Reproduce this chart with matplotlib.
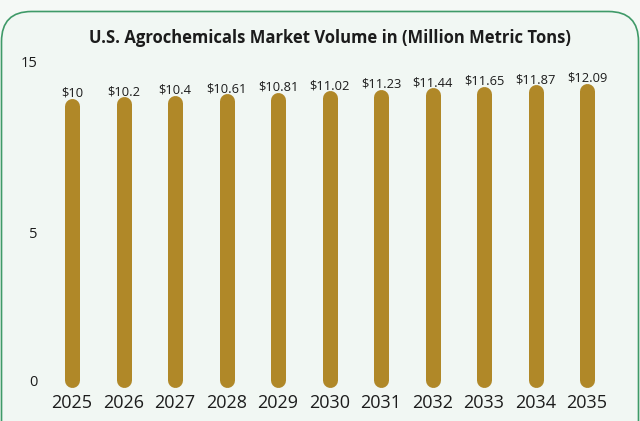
import numpy as np
import matplotlib
matplotlib.use('Agg')
import matplotlib.pyplot as plt
from matplotlib.patches import FancyBboxPatch
from matplotlib.transforms import IdentityTransform

years = ['2025', '2026', '2027', '2028', '2029', '2030', '2031', '2032', '2033', '2034', '2035']
volume = [10, 10.2, 10.4, 10.61, 10.81, 11.02, 11.23, 11.44, 11.65, 11.87, 12.09]
yticks = [0, 5, 15]

# piecewise y scale (value -> pixel height above the baseline)
scale_vals = [-0.4, 0, 5, 10, 12.09, 15, 17]
scale_px = [-11.8, 0, 147.5, 274.7, 289.7, 318.5, 338.5]

def fwd(v):
	return np.interp(v, scale_vals, scale_px)

def inv(p):
	return np.interp(p, scale_px, scale_vals)

plt.rcParams['font.family'] = ['Open Sans', 'DejaVu Sans']
bar_color = '#b08828'
text_color = '#1c1c1c'

fig = plt.figure(figsize=(6.4, 4.21), dpi=100, facecolor='#f5f9f6')

# rounded frame around the chart
frame = FancyBboxPatch((1.5, -30), 637, 421 - 10 + 30 - 1.5,
	boxstyle='round,pad=0,rounding_size=30',
	transform=IdentityTransform(), facecolor='#f1f7f3',
	edgecolor='#3f9a68', linewidth=1.2, zorder=0)
fig.add_artist(frame)

ax = fig.add_axes([46.25 / 640, 0.0682, 566.5 / 640, 0.8321])
ax.set_facecolor('none')
ax.set_yscale('function', functions=(fwd, inv))

x = np.arange(len(years))
ax.vlines(x, 0, volume, colors=bar_color, linewidth=10.8, capstyle='round')

for i, v in enumerate(volume):
	ax.annotate(f'${v:g}', xy=(i, v), xytext=(0, 4.5), textcoords='offset points',
		ha='center', va='bottom', fontsize=9.3, color=text_color)

ax.set_xlim(-0.5, len(years) - 0.5)
ax.set_ylim(-0.4, 17)
ax.set_xticks(x, years)
ax.set_yticks(yticks, [str(t) for t in yticks])
ax.minorticks_off()
ax.tick_params(axis='x', length=0, pad=1, labelsize=13, labelcolor=text_color)
ax.tick_params(axis='y', length=0, pad=6, labelsize=10.5, labelcolor=text_color)
for s in ax.spines.values():
	s.set_visible(False)

fig.text(0.515, (421 - 38) / 421, 'U.S. Agrochemicals Market Volume in (Million Metric Tons)',
	ha='center', va='center', fontsize=12, fontweight='bold', color=text_color)

fig.savefig('out.png', dpi=100, facecolor=fig.get_facecolor())
